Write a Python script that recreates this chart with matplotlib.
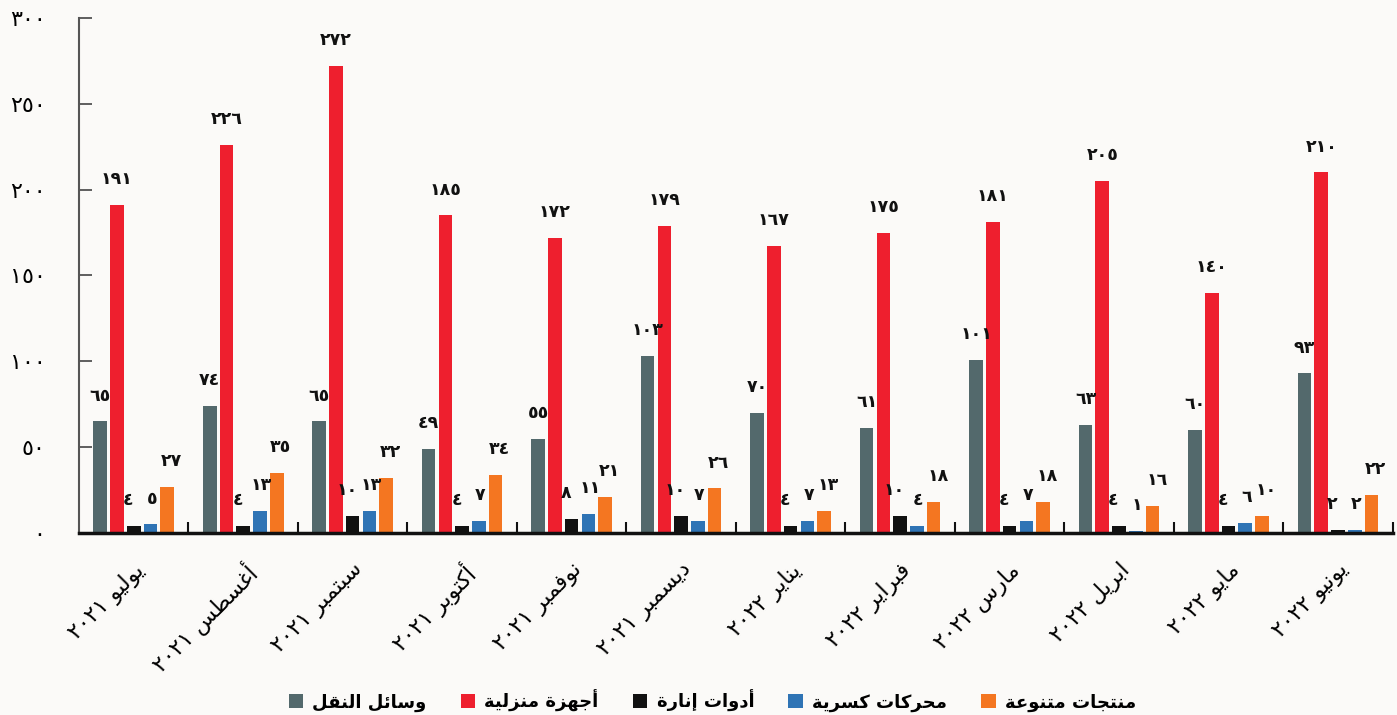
import matplotlib
matplotlib.use("Agg")
import matplotlib.pyplot as plt
import numpy as np

# data
months = ["يوليو ٢٠٢١", "أغسطس ٢٠٢١", "سبتمبر ٢٠٢١", "أكتوبر ٢٠٢١", "نوفمبر ٢٠٢١",
          "ديسمبر ٢٠٢١", "يناير ٢٠٢٢", "فبراير ٢٠٢٢", "مارس ٢٠٢٢", "ابريل ٢٠٢٢",
          "مايو ٢٠٢٢", "يونيو ٢٠٢٢"]
series_names = ["وسائل النقل", "أجهزة منزلية", "أدوات إنارة", "محركات كسرية", "منتجات متنوعة"]
transport = [65, 74, 65, 49, 55, 103, 70, 61, 101, 63, 60, 93]
appliances = [191, 226, 272, 185, 172, 179, 167, 175, 181, 205, 140, 210]
lighting = [4, 4, 10, 4, 8, 10, 4, 10, 4, 4, 4, 2]
motors = [5, 13, 13, 7, 11, 7, 7, 4, 7, 1, 6, 2]
misc = [27, 35, 32, 34, 21, 26, 13, 18, 18, 16, 10, 22]
yticks = [0, 50, 100, 150, 200, 250, 300]

colors = ["#53696c", "#ee1f2e", "#111111", "#2f74b5", "#f47621"]

# minimal Arabic shaping (matplotlib has no complex text layout)
FORMS = {
    "ا": ("\uFE8D", "\uFE8E", None, None), "أ": ("\uFE83", "\uFE84", None, None),
    "إ": ("\uFE87", "\uFE88", None, None), "ب": ("\uFE8F", "\uFE90", "\uFE91", "\uFE92"),
    "ة": ("\uFE93", "\uFE94", None, None), "ت": ("\uFE95", "\uFE96", "\uFE97", "\uFE98"),
    "ج": ("\uFE9D", "\uFE9E", "\uFE9F", "\uFEA0"), "ح": ("\uFEA1", "\uFEA2", "\uFEA3", "\uFEA4"),
    "د": ("\uFEA9", "\uFEAA", None, None), "ر": ("\uFEAD", "\uFEAE", None, None),
    "ز": ("\uFEAF", "\uFEB0", None, None), "س": ("\uFEB1", "\uFEB2", "\uFEB3", "\uFEB4"),
    "ط": ("\uFEC1", "\uFEC2", "\uFEC3", "\uFEC4"), "ع": ("\uFEC9", "\uFECA", "\uFECB", "\uFECC"),
    "غ": ("\uFECD", "\uFECE", "\uFECF", "\uFED0"), "ف": ("\uFED1", "\uFED2", "\uFED3", "\uFED4"),
    "ق": ("\uFED5", "\uFED6", "\uFED7", "\uFED8"), "ك": ("\uFED9", "\uFEDA", "\uFEDB", "\uFEDC"),
    "ل": ("\uFEDD", "\uFEDE", "\uFEDF", "\uFEE0"), "م": ("\uFEE1", "\uFEE2", "\uFEE3", "\uFEE4"),
    "ن": ("\uFEE5", "\uFEE6", "\uFEE7", "\uFEE8"), "ه": ("\uFEE9", "\uFEEA", "\uFEEB", "\uFEEC"),
    "و": ("\uFEED", "\uFEEE", None, None), "ي": ("\uFEF1", "\uFEF2", "\uFEF3", "\uFEF4"),
    "ئ": ("\uFE89", "\uFE8A", "\uFE8B", "\uFE8C"),
}


def shape_word(w):
    out = []
    for i, c in enumerate(w):
        if c not in FORMS:
            out.append(c)
            continue
        f = FORMS[c]
        prev = w[i - 1] if i > 0 else None
        nxt = w[i + 1] if i + 1 < len(w) else None
        jp = prev in FORMS and FORMS[prev][2] is not None
        jn = f[2] is not None and nxt in FORMS
        if jp and jn:
            out.append(f[3])
        elif jp:
            out.append(f[1])
        elif jn:
            out.append(f[2])
        else:
            out.append(f[0])
    return "".join(out)


def ar(text):
    parts = []
    for tok in reversed(text.split(" ")):
        if any(ch in FORMS for ch in tok):
            parts.append(shape_word(tok)[::-1])
        else:
            parts.append(tok)
    return " ".join(parts)


def ar_num(n):
    return str(n).translate(str.maketrans("0123456789", "٠١٢٣٤٥٦٧٨٩"))


plt.rcParams["font.family"] = ["DejaVu Sans"]
bg = "#fbfaf8"
fig = plt.figure(figsize=(13.97, 7.15), dpi=100, facecolor=bg)
ax = fig.add_axes([0.0565, 0.2545, 0.9405, 0.7205])
ax.set_facecolor(bg)

x = np.arange(len(months))
slot = 0.153
width = 0.125
all_series = [transport, appliances, lighting, motors, misc]
# small sideways nudges so the crowded small-value labels don't collide
nudge = [0, 0, -4, 1, 3]
for k, (vals, c, name) in enumerate(zip(all_series, colors, series_names)):
    pos = x + (k - 2) * slot
    ax.bar(pos, vals, width=width, color=c, label=ar(name), zorder=2)
    for px, v in zip(pos, vals):
        ax.annotate(ar_num(v), (px, v), xytext=(nudge[k], 15), textcoords="offset points",
                    ha="center", va="baseline", fontsize=12.5, fontweight="bold",
                    color="#111111")

ax.set_xlim(-0.5, 11.5)
ax.set_ylim(0, 300)
ax.set_yticks(yticks)
ax.set_yticklabels([ar_num(v) for v in yticks], fontsize=16)
ax.tick_params(axis="y", direction="in", length=9, width=1.2, pad=24, color="#444444")

ax.set_xticks(x)
ax.set_xticklabels([ar(m) for m in months], rotation=45, ha="right",
                   rotation_mode="anchor", fontsize=16)
ax.tick_params(axis="x", which="major", length=0, pad=19)
ax.set_xticks(np.arange(0.5, 12, 1), minor=True)
ax.tick_params(axis="x", which="minor", direction="in", length=8, width=1.5, color="#111111")

for s in ["top", "right"]:
    ax.spines[s].set_visible(False)
ax.spines["left"].set_color("#555555")
ax.spines["left"].set_linewidth(1.5)
ax.spines["bottom"].set_color("#111111")
ax.spines["bottom"].set_linewidth(2.5)

leg = fig.legend(loc="lower center", bbox_to_anchor=(0.51, -0.018), ncol=5, frameon=False,
                 handlelength=0.8, handleheight=0.8, columnspacing=1.9,
                 handletextpad=0.5, prop={"weight": "bold", "size": 13})

fig.savefig("out.png", dpi=100, facecolor=bg)
